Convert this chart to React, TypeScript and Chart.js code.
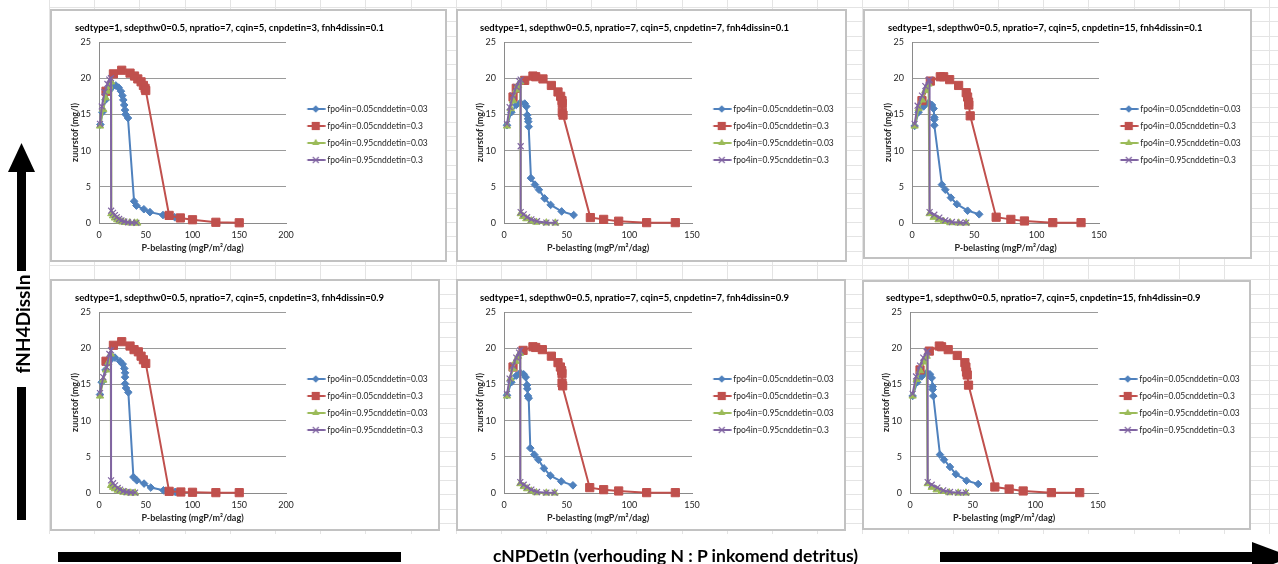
import React, { useEffect, useRef } from 'react';
import { Chart, registerables } from 'chart.js';

Chart.register(...registerables);
Chart.defaults.font.family = "Lato, 'Liberation Sans', sans-serif";

type Pt = [number, number];

// ---------- data ----------
const seriesLabels = [
  'fpo4in=0.05cnddetin=0.03',
  'fpo4in=0.05cnddetin=0.3',
  'fpo4in=0.95cnddetin=0.03',
  'fpo4in=0.95cnddetin=0.3',
];
const seriesColors = ['#4F81BD', '#C0504D', '#9BBB59', '#8064A2'];
const seriesMarkers = ['rectRot', 'rect', 'triangle', 'crossRot'];

const yTicks = [0, 5, 10, 15, 20, 25];
const xTicksWide = [0, 50, 100, 150, 200];
const xTicksNarrow = [0, 50, 100, 150];

const xAxisTitle = 'P-belasting (mgP/m²/dag)';
const yAxisTitle = 'zuurstof (mg/l)';

const title1 = 'sedtype=1, sdepthw0=0.5, npratio=7, cqin=5, cnpdetin=3, fnh4dissin=0.1';
const title2 = 'sedtype=1, sdepthw0=0.5, npratio=7, cqin=5, cnpdetin=7, fnh4dissin=0.1';
const title3 = 'sedtype=1, sdepthw0=0.5, npratio=7, cqin=5, cnpdetin=15, fnh4dissin=0.1';
const title4 = 'sedtype=1, sdepthw0=0.5, npratio=7, cqin=5, cnpdetin=3, fnh4dissin=0.9';
const title5 = 'sedtype=1, sdepthw0=0.5, npratio=7, cqin=5, cnpdetin=7, fnh4dissin=0.9';
const title6 = 'sedtype=1, sdepthw0=0.5, npratio=7, cqin=5, cnpdetin=15, fnh4dissin=0.9';

const verticalLabel = 'fNH4DissIn';
const horizontalLabel = 'cNPDetIn (verhouding N : P inkomend detritus)';

// chart 1: cnpdetin=3, fnh4dissin=0.1
const c1Blue: Pt[] = [[1.5, 13.6], [3.6, 15.3], [7, 17.0], [11, 18.3], [15, 18.9], [18, 19.0], [21, 18.7], [23.5, 18.2], [25, 17.6], [26, 17.0], [27, 16.3], [27.8, 15.6], [28.5, 15.0], [31, 14.5], [37.5, 3.0], [40, 2.4], [48, 1.9], [54.5, 1.5], [68.5, 1.1], [81, 0.8]];
const c1Red: Pt[] = [[7.5, 18.2], [15.4, 20.6], [24.3, 21.1], [33.2, 20.7], [38, 20.3], [41.5, 19.9], [45, 19.5], [47.5, 19.0], [49.3, 18.6], [50, 18.3], [75, 1.05], [87, 0.7], [100, 0.45], [125, 0.1], [150, 0.03]];
const c1Green: Pt[] = [[1.1, 13.4], [4.5, 15.7], [7, 17.3], [9, 18.2], [11, 18.9], [13, 19.5], [13.2, 1.3], [15, 1.0], [17, 0.7], [19.5, 0.45], [22, 0.3], [25, 0.15], [28.5, 0.08], [33, 0.03], [38, 0.0], [41, 0.0]];
const c1Purple: Pt[] = [[1.1, 13.7], [3, 16.1], [6, 18.1], [9, 19.2], [11, 19.8], [12.8, 20.0], [13, 1.7], [15, 1.4], [17, 1.1], [19, 0.8], [21.5, 0.55], [24, 0.35], [27, 0.2], [31, 0.1], [35, 0.05], [40, 0.03]];

// chart 2: cnpdetin=7, fnh4dissin=0.1
const c2Blue: Pt[] = [[2.4, 13.5], [5.9, 15.3], [9.8, 16.3], [13, 16.6], [16.5, 16.5], [17.8, 16.1], [18.6, 14.9], [19.1, 14.4], [19.4, 14.0], [19.7, 13.3], [21.5, 6.2], [24.7, 5.3], [27.9, 4.6], [32.4, 3.4], [37.2, 2.5], [46, 1.6], [55.6, 1.1]];
const c2Red: Pt[] = [[7.2, 17.4], [9.8, 18.6], [16.5, 19.7], [23.1, 20.3], [25.3, 20.2], [31.1, 19.9], [37.8, 19.0], [43.1, 18.1], [45.2, 17.5], [46.3, 16.9], [46.5, 16.5], [46.5, 15.3], [47.1, 14.9], [68.9, 0.75], [79.5, 0.5], [91.5, 0.25], [113.8, 0.05], [136.7, 0.05]];
const c2Green: Pt[] = [[2.4, 13.4], [5.3, 15.8], [7.2, 16.9], [9.8, 18.4], [11.2, 19.0], [13, 19.5], [13.3, 1.3], [15.2, 0.9], [17.8, 0.6], [21.8, 0.3], [25.8, 0.12], [33.8, 0.02], [41, 0.0]];
const c2Purple: Pt[] = [[2.4, 13.7], [4.5, 16.0], [7.2, 17.6], [9.8, 18.8], [12, 19.6], [13.3, 19.8], [13.3, 10.6], [13.3, 1.5], [15.7, 1.2], [18.4, 0.8], [21.8, 0.5], [26.3, 0.25], [33.8, 0.05], [41, 0.05]];

// chart 3: cnpdetin=15, fnh4dissin=0.1
const c3Blue: Pt[] = [[2.1, 13.4], [5.3, 15.3], [9.3, 16.1], [13.3, 16.6], [16, 16.3], [17.3, 15.8], [17.9, 14.6], [17.9, 14.3], [17.9, 13.5], [24, 5.3], [26.7, 4.6], [31.2, 3.5], [36, 2.6], [44.6, 1.7], [53.9, 1.2]];
const c3Red: Pt[] = [[8, 16.9], [14.7, 19.6], [22.7, 20.2], [25.4, 20.2], [30.2, 19.8], [37.4, 19.0], [43.5, 18.0], [44.6, 17.4], [45.4, 16.7], [45.6, 16.3], [46.7, 14.8], [67.5, 0.8], [79.3, 0.5], [90.2, 0.28], [112.9, 0.05], [135.6, 0.05]];
const c3Green: Pt[] = [[2.1, 13.4], [5.3, 15.8], [8, 17.0], [10.7, 18.3], [13.3, 19.2], [14.1, 1.3], [17.3, 0.8], [21.3, 0.45], [25.4, 0.23], [30.7, 0.05], [37.4, 0.0], [43.5, 0.0]];
const c3Purple: Pt[] = [[2.1, 13.7], [4.5, 16.2], [8, 17.6], [10.7, 18.9], [13.3, 19.7], [14.1, 19.8], [14.1, 1.5], [17.9, 1.15], [21.9, 0.75], [26.7, 0.37], [32, 0.14], [38.7, 0.05], [43.5, 0.05]];

// chart 4: cnpdetin=3, fnh4dissin=0.9
const c4Blue: Pt[] = [[1.1, 13.6], [2.9, 15.3], [7, 17.0], [11.8, 18.3], [17.1, 18.7], [22.5, 18.2], [25.4, 17.8], [27.1, 17.2], [27.9, 16.6], [27.9, 16.0], [27.9, 15.1], [28.9, 14.5], [31.4, 13.9], [36.8, 2.2], [40.4, 1.75], [48.2, 1.3], [55.4, 0.75], [68.9, 0.37], [81.4, 0.15]];
const c4Red: Pt[] = [[7.5, 18.2], [15.4, 20.4], [24.3, 20.9], [33.2, 20.3], [37.5, 19.8], [42.1, 19.5], [45, 18.9], [47.5, 18.4], [50, 17.9], [75, 0.23], [87.5, 0.14], [100, 0.1], [125, 0.05], [150, 0.05]];
const c4Green: Pt[] = [[1.1, 13.4], [4.6, 15.6], [7.5, 17.0], [10, 18.0], [12.5, 19.2], [12.9, 1.05], [15, 0.8], [17.1, 0.6], [20, 0.4], [22.5, 0.28], [26, 0.12], [29.6, 0.05], [34, 0.0], [38.6, 0.0]];
const c4Purple: Pt[] = [[1.1, 13.8], [4.6, 16.0], [8.2, 17.4], [11.1, 19.2], [12.9, 19.7], [12.9, 1.75], [15, 1.35], [17.1, 1.05], [20, 0.7], [22.5, 0.46], [26, 0.25], [29.6, 0.14], [34, 0.07], [38.6, 0.05]];

// chart 5: cnpdetin=7, fnh4dissin=0.9
const c5Blue: Pt[] = [[2.4, 13.5], [5.9, 15.3], [9.8, 16.2], [13, 16.6], [15.7, 16.4], [17.3, 16.0], [18.4, 14.9], [18.6, 14.4], [19.1, 13.4], [19.7, 13.1], [21, 6.2], [24.2, 5.3], [27.4, 4.6], [31.9, 3.4], [37, 2.4], [45.7, 1.6], [55, 1.06]];
const c5Red: Pt[] = [[7.2, 17.4], [15.2, 19.7], [23.1, 20.2], [25.3, 20.1], [30.6, 19.8], [37.8, 18.9], [43.1, 18.0], [45, 17.4], [46, 16.9], [46.3, 16.5], [46.3, 15.2], [46.8, 14.8], [68.4, 0.74], [79.5, 0.46], [91.5, 0.28], [113.8, 0.05], [136.7, 0.05]];
const c5Green: Pt[] = [[2.4, 13.4], [5.1, 15.8], [7.2, 17.2], [9.3, 18.2], [11.2, 18.9], [12.8, 19.3], [13, 1.3], [15.7, 0.9], [18.4, 0.6], [21.8, 0.28], [25.8, 0.05], [33.8, 0.0], [40.4, 0.0]];
const c5Purple: Pt[] = [[2.4, 13.7], [4.5, 15.8], [7.2, 17.6], [9.8, 18.7], [12, 19.4], [13, 19.7], [13, 1.5], [15.7, 1.15], [18.4, 0.83], [21.8, 0.46], [26.3, 0.14], [33.8, 0.05], [40.4, 0.05]];

// chart 6: cnpdetin=15, fnh4dissin=0.9
const c6Blue: Pt[] = [[2.1, 13.4], [5.8, 15.3], [9.3, 16.1], [13.3, 16.6], [15.9, 16.4], [17.3, 15.9], [18.1, 14.7], [18.1, 14.3], [18.6, 13.4], [23.9, 5.3], [27.1, 4.6], [31.9, 3.6], [36.6, 2.6], [45.1, 1.7], [54.4, 1.24]];
const c6Red: Pt[] = [[8, 17.0], [15.4, 19.6], [23.4, 20.3], [25.2, 20.2], [30.5, 19.8], [37.7, 19.0], [43.8, 18.0], [44.6, 17.4], [45.1, 16.7], [45.7, 16.3], [46.7, 14.9], [67.7, 0.83], [79.1, 0.55], [90.3, 0.28], [112.8, 0.05], [135.4, 0.05]];
const c6Green: Pt[] = [[2.1, 13.4], [5.3, 15.7], [8, 16.9], [10.6, 18.1], [13.3, 18.9], [14.1, 1.3], [17.3, 0.8], [21.2, 0.45], [25.2, 0.23], [31.3, 0.05], [38.5, 0.0], [44.6, 0.0]];
const c6Purple: Pt[] = [[2.1, 13.7], [4.8, 16.1], [8, 17.6], [10.6, 18.7], [13.3, 19.5], [14.1, 19.6], [14.1, 1.5], [17.3, 1.15], [21.8, 0.74], [26.5, 0.37], [31.9, 0.14], [38.5, 0.05], [44.6, 0.05]];

// ---------- layout ----------
type Box = { x: number; y: number; w: number; h: number };
type Cfg = { title: string; series: Pt[][]; xTicks: number[]; box: Box; plot: Box };

const charts: Cfg[] = [
  { title: title1, series: [c1Blue, c1Red, c1Green, c1Purple], xTicks: xTicksWide, box: { x: 50, y: 9, w: 397, h: 253 }, plot: { x: 99, y: 42, w: 187, h: 181 } },
  { title: title2, series: [c2Blue, c2Red, c2Green, c2Purple], xTicks: xTicksNarrow, box: { x: 456, y: 9, w: 391, h: 253 }, plot: { x: 504, y: 42, w: 188, h: 181 } },
  { title: title3, series: [c3Blue, c3Red, c3Green, c3Purple], xTicks: xTicksNarrow, box: { x: 863, y: 9, w: 389, h: 250 }, plot: { x: 912, y: 42, w: 187, h: 181 } },
  { title: title4, series: [c4Blue, c4Red, c4Green, c4Purple], xTicks: xTicksWide, box: { x: 50, y: 279, w: 390, h: 252 }, plot: { x: 99, y: 312, w: 187, h: 181 } },
  { title: title5, series: [c5Blue, c5Red, c5Green, c5Purple], xTicks: xTicksNarrow, box: { x: 456, y: 279, w: 390, h: 252 }, plot: { x: 504, y: 312, w: 188, h: 181 } },
  { title: title6, series: [c6Blue, c6Red, c6Green, c6Purple], xTicks: xTicksNarrow, box: { x: 862, y: 280, w: 389, h: 250 }, plot: { x: 910, y: 312, w: 188, h: 181 } },
];

const PLOT_LEFT = 49; // canvas x of plot left
const PLOT_TOP = 32; // canvas y of plot top
const X_AXIS_H = 36;
const GRID = '#9a9a9a';
const AXIS = '#8a8a8a';
const TEXT = '#262626';

function drawMarker(ctx: CanvasRenderingContext2D, style: string, x: number, y: number, r: number, color: string) {
  ctx.fillStyle = color;
  ctx.strokeStyle = color;
  ctx.beginPath();
  if (style === 'rectRot') {
    ctx.moveTo(x - r, y); ctx.lineTo(x, y - r); ctx.lineTo(x + r, y); ctx.lineTo(x, y + r); ctx.closePath(); ctx.fill();
  } else if (style === 'rect') {
    const s = r * Math.SQRT1_2;
    ctx.rect(x - s, y - s, 2 * s, 2 * s); ctx.fill();
  } else if (style === 'triangle') {
    ctx.moveTo(x, y - r); ctx.lineTo(x + r * 0.866, y + r * 0.5); ctx.lineTo(x - r * 0.866, y + r * 0.5); ctx.closePath(); ctx.fill();
  } else {
    const d = r * Math.SQRT1_2;
    ctx.lineWidth = 1.2;
    ctx.moveTo(x - d, y - d); ctx.lineTo(x + d, y + d); ctx.moveTo(x + d, y - d); ctx.lineTo(x - d, y + d); ctx.stroke();
  }
}

const markerRadius = [3.8, 5.8, 4.2, 4.2];

function makeLegendIcon(i: number): HTMLCanvasElement {
  const c = document.createElement('canvas');
  c.width = 34; c.height = 12;
  const ctx = c.getContext('2d')!;
  ctx.strokeStyle = seriesColors[i];
  ctx.lineWidth = 2;
  ctx.beginPath(); ctx.moveTo(15.6, 6); ctx.lineTo(33.6, 6); ctx.stroke();
  drawMarker(ctx, seriesMarkers[i], 24, 6, markerRadius[i], seriesColors[i]);
  return c;
}

function SubChart({ cfg }: { cfg: Cfg }) {
  const ref = useRef<HTMLCanvasElement>(null);
  const left = cfg.plot.x - PLOT_LEFT;
  const top = cfg.plot.y - PLOT_TOP;
  const width = cfg.box.x + cfg.box.w - 2 - left;
  const height = cfg.plot.h + PLOT_TOP + X_AXIS_H;
  useEffect(() => {
    const canvas = ref.current!;
    const legendW = width - PLOT_LEFT - cfg.plot.w;
    const icons = [0, 1, 2, 3].map(makeLegendIcon);
    const fixLegend = {
      id: 'fixLegend',
      beforeUpdate(chart: any) {
        const lg = chart.legend;
        if (lg && !lg.__fixed) {
          const orig = lg.fit.bind(lg);
          lg.fit = function () { orig(); this.width = legendW; };
          lg.__fixed = true;
        }
      },
    };
    const chart = new Chart(canvas, {
      type: 'scatter',
      data: {
        datasets: cfg.series.map((pts, i) => ({
          label: seriesLabels[i],
          data: pts.map(([x, y]) => ({ x, y })),
          showLine: true,
          borderColor: seriesColors[i],
          backgroundColor: seriesColors[i],
          borderWidth: 2,
          pointStyle: seriesMarkers[i] as any,
          pointRadius: markerRadius[i],
          pointBackgroundColor: seriesColors[i],
          pointBorderColor: seriesColors[i],
          pointBorderWidth: i === 3 ? 1.2 : 1,
          tension: 0,
          clip: false as any,
          order: 4 - i,
        })),
      },
      options: {
        responsive: false,
        animation: false,
        devicePixelRatio: 1,
        events: [],
        layout: { padding: { left: 25, top: 0, right: 0, bottom: 0 } },
        scales: {
          x: {
            type: 'linear',
            min: cfg.xTicks[0],
            max: cfg.xTicks[cfg.xTicks.length - 1],
            afterBuildTicks: (s: any) => { s.ticks = cfg.xTicks.map((v) => ({ value: v })); },
            afterFit: (s: any) => { s.height = X_AXIS_H; },
            grid: { display: false, drawTicks: false },
            border: { display: true, color: AXIS, width: 1 },
            ticks: { padding: 7, font: { size: 9 }, color: TEXT, maxRotation: 0, autoSkip: false },
            title: { display: true, text: xAxisTitle, font: { size: 9, weight: 'bold' }, color: TEXT, padding: { top: 0, bottom: 5.5 } },
          },
          y: {
            type: 'linear',
            min: yTicks[0],
            max: yTicks[yTicks.length - 1],
            afterBuildTicks: (s: any) => { s.ticks = yTicks.map((v) => ({ value: v })); },
            afterFit: (s: any) => { s.width = PLOT_LEFT - 25; },
            grid: { color: GRID, lineWidth: 1, drawTicks: false },
            border: { display: true, color: AXIS, width: 1 },
            ticks: { padding: 8, font: { size: 9 }, color: TEXT },
            title: { display: true, text: yAxisTitle, font: { size: 9, weight: 'bold' }, color: TEXT, padding: { top: -5.6, bottom: 0 } },
          },
        },
        plugins: {
          title: { display: true, text: cfg.title, align: 'start', font: { size: 9.5, weight: 'bold' }, color: '#000', padding: { top: 12.3, bottom: 8.3 } },
          legend: {
            position: 'right',
            align: 'center',
            labels: {
              usePointStyle: true,
              pointStyleWidth: 28.5,
              padding: 8.5,
              font: { size: 8.5 },
              color: TEXT,
              sort: (a: any, b: any) => a.datasetIndex - b.datasetIndex,
              generateLabels: (ch: any) => {
                const items = (Chart.defaults.plugins.legend.labels as any).generateLabels(ch);
                return items.map((it: any) => ({ ...it, pointStyle: icons[it.datasetIndex] }));
              },
            },
          },
          tooltip: { enabled: false },
        },
      } as any,
      plugins: [fixLegend],
    });
    return () => chart.destroy();
  }, []);
  return (
    <canvas
      ref={ref}
      width={width}
      height={height}
      style={{ position: 'absolute', left, top, width, height }}
    />
  );
}

function SheetGrid() {
  const cols: number[] = [];
  for (let x = 49; x < 1278; x += 45.19) cols.push(Math.round(x) + 0.5);
  const rows: number[] = [];
  for (let y = 7; y < 535; y += 14.33) rows.push(Math.round(y) + 0.5);
  return (
    <svg width={1278} height={564} style={{ position: 'absolute', left: 0, top: 0 }}>
      {cols.map((x) => (
        <line key={'c' + x} x1={x} x2={x} y1={0} y2={534} stroke="#e4e4e4" strokeWidth={1} />
      ))}
      {rows.map((y) => (
        <line key={'r' + y} x1={49} x2={1278} y1={y} y2={y} stroke="#e4e4e4" strokeWidth={1} />
      ))}
    </svg>
  );
}

function Arrows() {
  return (
    <svg width={1278} height={564} style={{ position: 'absolute', left: 0, top: 0 }}>
      <polygon points="8,172 21.5,143 35,172" fill="#000" />
      <rect x={17} y={171} width={9} height={100} fill="#000" />
      <rect x={17} y={387} width={9} height={133} fill="#000" />
      <rect x={58} y={552} width={343} height={10} fill="#000" />
      <rect x={940} y={552} width={318} height={10} fill="#000" />
      <polygon points="1252,542 1292,557 1252,572" fill="#000" />
    </svg>
  );
}

export default function App() {
  return (
    <div style={{ position: 'absolute', left: 0, top: 0, width: 1278, height: 564, background: '#fff', overflow: 'hidden', fontFamily: "Lato, 'Liberation Sans', sans-serif" }}>
      <SheetGrid />
      {charts.map((c, i) => (
        <div
          key={'b' + i}
          style={{ position: 'absolute', left: c.box.x, top: c.box.y, width: c.box.w, height: c.box.h, boxSizing: 'border-box', border: '2px solid #c2c2c2', background: '#fff' }}
        />
      ))}
      {charts.map((c, i) => (
        <SubChart key={'c' + i} cfg={c} />
      ))}
      <Arrows />
      <div style={{ position: 'absolute', left: 22, top: 324, transform: 'translate(-50%, -50%) rotate(-90deg)', whiteSpace: 'nowrap', fontWeight: 700, fontSize: 19, color: '#000', lineHeight: 1 }}>
        {verticalLabel}
      </div>
      <div style={{ position: 'absolute', left: 675.5, top: 556, transform: 'translate(-50%, -50%)', whiteSpace: 'nowrap', fontWeight: 700, fontSize: 17.5, color: '#000', lineHeight: 1 }}>
        {horizontalLabel}
      </div>
    </div>
  );
}
